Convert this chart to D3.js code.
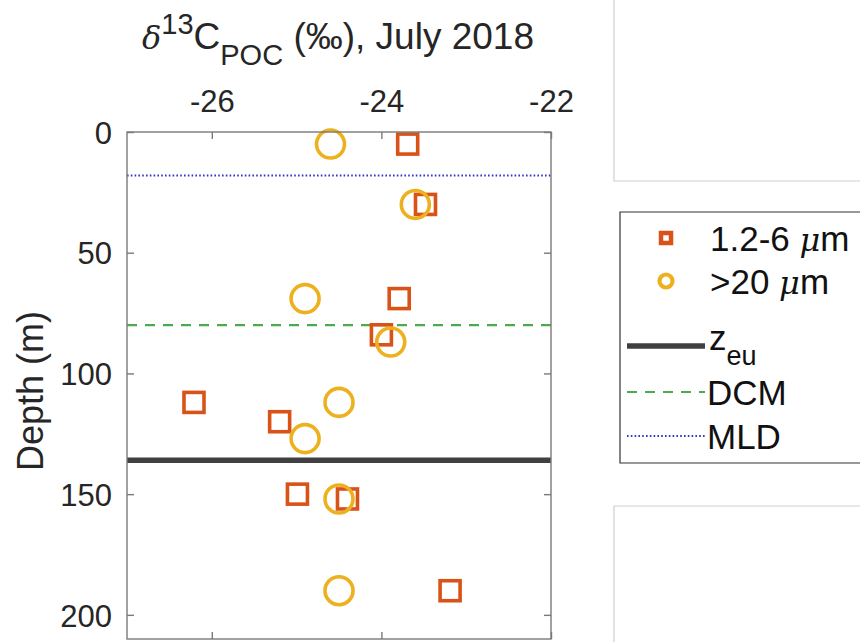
<!DOCTYPE html>
<html><head><meta charset="utf-8">
<script src="https://cdn.jsdelivr.net/npm/d3@7"></script>
<style>body{margin:0;background:#fff;} svg{display:block;}</style>
</head><body>
<svg id="c" width="860" height="642"></svg>
<script>
// ---- data ----
const smallDepth = [5, 30, 69, 84, 112, 120, 150, 152, 190];
const smallD13C  = [-23.69, -23.48, -23.79, -24.0, -26.21, -25.2, -24.99, -24.40, -23.19];
const largeDepth = [5, 30, 69, 87, 112, 127, 152, 190];
const largeD13C  = [-24.60, -23.60, -24.90, -23.89, -24.50, -24.90, -24.50, -24.50];
const zeuDepth = 136, dcmDepth = 80, mldDepth = 18;
const xTicks = [-26, -24, -22];
const yTicks = [0, 50, 100, 150, 200];
const legendLabels = ["1.2-6 ", ">20 ", "z", "DCM", "MLD"];

const C_SQ = "#D95319", C_CI = "#EDB120", C_ZEU = "#404040", C_DCM = "#4DAA4D", C_MLD = "#3535C8";
const FONT = "'Liberation Sans', Arial, Helvetica, sans-serif";
const SERIF = "'DejaVu Serif','Liberation Serif',serif";

const svg = d3.select("#c");
const L = 127, R = 551, T = 132, B = 639;
const x = d3.scaleLinear().domain([-27, -22]).range([L, R]);
const y = d3.scaleLinear().domain([0, 210]).range([T, B]);

// background panels (other subplots)
svg.append("path").attr("d", `M614,-2 V181 H865`).attr("fill","none").attr("stroke","#cfcfcf").attr("stroke-width",1.2);
svg.append("path").attr("d", `M614,650 V506 H865`).attr("fill","none").attr("stroke","#cfcfcf").attr("stroke-width",1.2);

// horizontal reference lines
const gl = svg.append("g");
gl.append("line").attr("x1",L).attr("x2",R).attr("y1",y(mldDepth)).attr("y2",y(mldDepth))
  .attr("stroke",C_MLD).attr("stroke-width",2).attr("stroke-dasharray","1.6 2.2");
gl.append("line").attr("x1",L).attr("x2",R).attr("y1",y(dcmDepth)).attr("y2",y(dcmDepth))
  .attr("stroke",C_DCM).attr("stroke-width",2.2).attr("stroke-dasharray","10 8");
gl.append("line").attr("x1",L).attr("x2",R).attr("y1",y(zeuDepth)).attr("y2",y(zeuDepth))
  .attr("stroke",C_ZEU).attr("stroke-width",5.5);

// markers
const sq = 20;
svg.append("g").selectAll("rect").data(smallD13C.map((v,i)=>({v, d:smallDepth[i]}))).join("rect")
  .attr("x", d=>x(d.v)-sq/2).attr("y", d=>y(d.d)-sq/2).attr("width",sq).attr("height",sq)
  .attr("fill","none").attr("stroke",C_SQ).attr("stroke-width",3.6);
svg.append("g").selectAll("circle").data(largeD13C.map((v,i)=>({v, d:largeDepth[i]}))).join("circle")
  .attr("cx", d=>x(d.v)).attr("cy", d=>y(d.d)).attr("r",14)
  .attr("fill","none").attr("stroke",C_CI).attr("stroke-width",3.6);

// axes box
const axCol = "#7a7a7a";
svg.append("rect").attr("x",L).attr("y",T).attr("width",R-L).attr("height",B-T)
  .attr("fill","none").attr("stroke",axCol).attr("stroke-width",1.4);

const tl = 7;
const axT = svg.append("g").attr("transform",`translate(0,${T})`)
  .call(d3.axisTop(x).tickValues(xTicks).tickSize(-tl).tickFormat(d=>d3.format("d")(d).replace("−","-")));
const axB = svg.append("g").attr("transform",`translate(0,${B})`)
  .call(d3.axisBottom(x).tickValues(xTicks).tickSize(-tl).tickFormat(""));
const axL = svg.append("g").attr("transform",`translate(${L},0)`)
  .call(d3.axisLeft(y).tickValues(yTicks).tickSize(-tl));
const axR = svg.append("g").attr("transform",`translate(${R},0)`)
  .call(d3.axisRight(y).tickValues(yTicks).tickSize(-tl).tickFormat(""));
[axT,axB,axL,axR].forEach(a=>{
  a.select(".domain").remove();
  a.selectAll(".tick line").attr("stroke",axCol).attr("stroke-width",1.4);
  a.selectAll(".tick text").attr("fill","#262626").attr("font-family",FONT).attr("font-size",31);
});
axT.selectAll(".tick text").attr("y",null).attr("dy",null).attr("transform","translate(0,-20)");
axL.selectAll(".tick text").attr("x",-15).attr("dy","0.36em");

// title
const tt = svg.append("text").attr("x",338).attr("y",49).attr("text-anchor","middle")
  .attr("font-family",FONT).attr("font-size",37).attr("fill","#262626");
tt.append("tspan").attr("font-family",SERIF).attr("font-style","italic").attr("font-size",32).text("δ");
tt.append("tspan").attr("font-size",29).attr("dy",-15).text("13");
tt.append("tspan").attr("dy",15).text("C");
tt.append("tspan").attr("font-size",29).attr("dy",16).text("POC");
tt.append("tspan").attr("dy",-16).text(" (‰), July 2018");

// y label
svg.append("text").attr("transform","translate(43,391) rotate(-90)").attr("text-anchor","middle")
  .attr("font-family",FONT).attr("font-size",36).attr("fill","#262626").text("Depth (m)");

// legend
svg.append("path").attr("d","M865,212 H620 V463 H865").attr("fill","none").attr("stroke","#333").attr("stroke-width",1.2);
const lg = svg.append("g").attr("font-family",FONT).attr("font-size",35).attr("fill","#111");
const rows = [238, 281, 346, 392, 436];
lg.append("rect").attr("x",661).attr("y",rows[0]-5).attr("width",10).attr("height",10)
  .attr("fill","none").attr("stroke",C_SQ).attr("stroke-width",4.5);
lg.append("circle").attr("cx",666).attr("cy",rows[1]).attr("r",6.5)
  .attr("fill","none").attr("stroke",C_CI).attr("stroke-width",4.2);
lg.append("line").attr("x1",627).attr("x2",705).attr("y1",rows[2]).attr("y2",rows[2]).attr("stroke",C_ZEU).attr("stroke-width",5.5);
lg.append("line").attr("x1",627).attr("x2",705).attr("y1",rows[3]).attr("y2",rows[3]).attr("stroke",C_DCM).attr("stroke-width",2.2).attr("stroke-dasharray","10 8");
lg.append("line").attr("x1",627).attr("x2",705).attr("y1",rows[4]).attr("y2",rows[4]).attr("stroke",C_MLD).attr("stroke-width",2).attr("stroke-dasharray","1.6 2.2");

const t0 = lg.append("text").attr("x",710).attr("y",rows[0]).attr("dy","0.36em");
t0.append("tspan").text(legendLabels[0]);
t0.append("tspan").attr("font-family",SERIF).attr("font-style","italic").attr("font-size",32).text("μ");
t0.append("tspan").text("m");
const t1 = lg.append("text").attr("x",710).attr("y",rows[1]).attr("dy","0.36em");
t1.append("tspan").text(legendLabels[1]);
t1.append("tspan").attr("font-family",SERIF).attr("font-style","italic").attr("font-size",32).text("μ");
t1.append("tspan").text("m");
const t2 = lg.append("text").attr("x",709).attr("y",rows[2]).attr("dy","0.1em");
t2.append("tspan").text(legendLabels[2]);
t2.append("tspan").attr("font-size",27).attr("dy",15).text("eu");
lg.append("text").attr("x",707).attr("y",rows[3]).attr("dy","0.36em").text(legendLabels[3]);
lg.append("text").attr("x",707).attr("y",rows[4]).attr("dy","0.36em").text(legendLabels[4]);
</script>
</body></html>
